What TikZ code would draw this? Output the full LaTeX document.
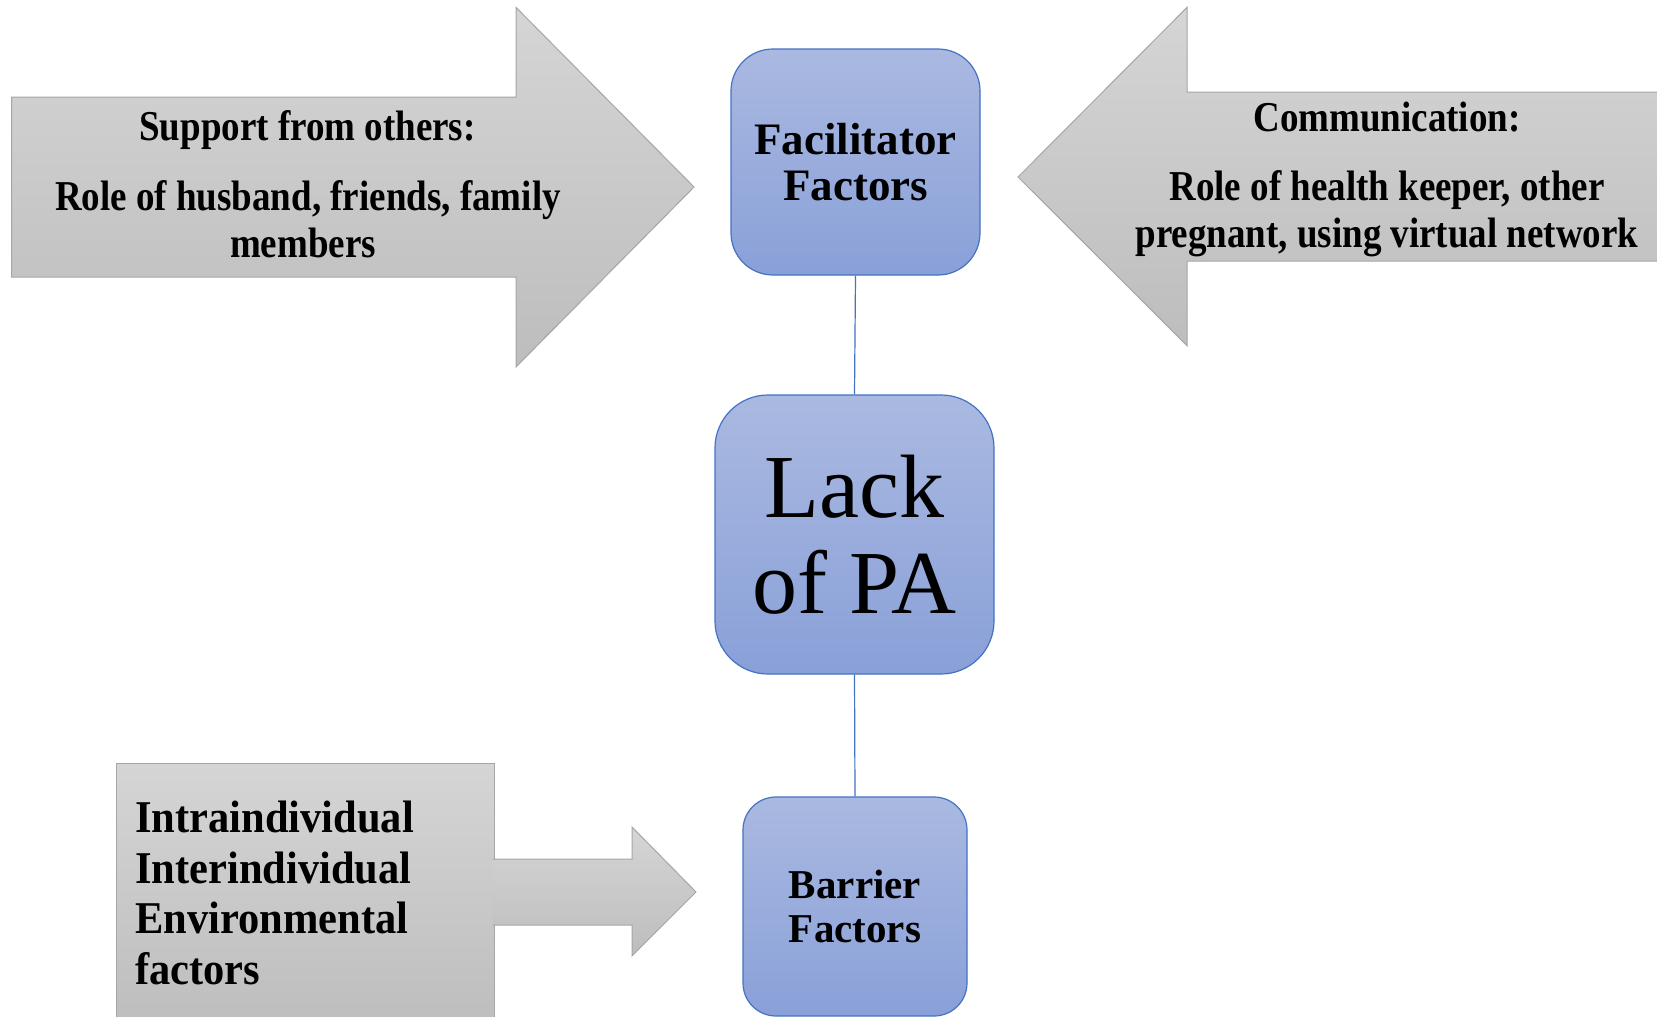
\documentclass[tikz,border=0pt]{standalone}
\usepackage{fontspec}
\usepackage{graphicx}
\setmainfont{Liberation Serif}
\definecolor{greytop}{HTML}{D5D5D5}
\definecolor{greybot}{HTML}{BDBDBD}
\definecolor{greyline}{HTML}{A6A6A6}
\definecolor{bluetop}{HTML}{AAB9E1}
\definecolor{bluebot}{HTML}{89A0D8}
\definecolor{blueline}{HTML}{4472C4}
\newcommand{\tallA}[1]{\scalebox{1}[1.15]{#1}}
\newcommand{\tallB}[1]{\scalebox{1}[1.07]{#1}}
\begin{document}
\begin{tikzpicture}[x=1pt,y=-1pt,
  greyshape/.style={draw=greyline, line width=1pt, top color=greytop, bottom color=greybot},
  bluebox/.style={draw=blueline, line width=1.2pt, top color=bluetop, bottom color=bluebot,
    inner sep=0pt, align=center, text=black},
  conn/.style={draw=blueline, line width=1.2pt},
  armtext/.style={anchor=base, inner sep=0pt, font=\fontsize{37}{47}\selectfont\bfseries},
  listtext/.style={anchor=base west, inner sep=0pt, font=\fontsize{42.5}{47}\selectfont\bfseries}]
\useasboundingbox (0,0) rectangle (1657,1017);
\clip (0,0) rectangle (1657,1017);
\fill[white] (0,0) rectangle (1657,1017);

% left arrow
\path[greyshape] (11.6,97) -- (516,97) -- (516,7.4) -- (694,187) -- (516,367) -- (516,277) -- (11.6,277) -- cycle;
\node[armtext] (s1) at (307.5,140.5) {\tallA{Support from others:}};
\node[armtext] (s2) at (308,210) {\tallA{Role of husband, friends, family}};
\node[armtext] (s3) at (303,257) {\tallA{members}};

% right arrow
\path[greyshape] (1018,177) -- (1187,7.4) -- (1187,92) -- (1670,92) -- (1670,261) -- (1187,261) -- (1187,345.6) -- cycle;
\node[armtext] (c1) at (1387,131) {\tallA{Communication:}};
\node[armtext] (c2) at (1387,200) {\tallA{Role of health keeper, other}};
\node[armtext] (c3) at (1387,247) {\tallA{pregnant, using virtual network}};

% bottom-left block and arrow
\path[greyshape] (116,763) -- (494,763) -- (494,1030) -- (116,1030) -- cycle;
\path[greyshape] (492.8,859) -- (632,859) -- (632,827) -- (696,892) -- (632,956) -- (632,925) -- (492.8,925);
\node[listtext] (b1) at (135,832.7) {\tallB{Intraindividual}};
\node[listtext] (b2) at (135,883.2) {\tallB{Interindividual}};
\node[listtext] (b3) at (135,933.7) {\tallB{Environmental}};
\node[listtext] (b4) at (135,984.2) {\tallB{factors}};

% central boxes
\node[bluebox, minimum width=249pt, minimum height=226pt, rounded corners=42pt,
  font=\fontsize{45}{46}\selectfont\bfseries] (fac) at (855.5,162) {Facilitator\\Factors};
\node[bluebox, minimum width=279pt, minimum height=279pt, rounded corners=53pt,
  font=\fontsize{90}{96}\selectfont] (lack) at (854.5,534.5) {Lack\\of PA};
\node[bluebox, minimum width=224pt, minimum height=219pt, rounded corners=33pt,
  font=\fontsize{41}{44}\selectfont\bfseries] (bar) at (855,906.5) {Barrier\\Factors};

\draw[conn] (fac.south) -- (lack.north);
\draw[conn] (lack.south) -- (bar.north);
\end{tikzpicture}
\end{document}
